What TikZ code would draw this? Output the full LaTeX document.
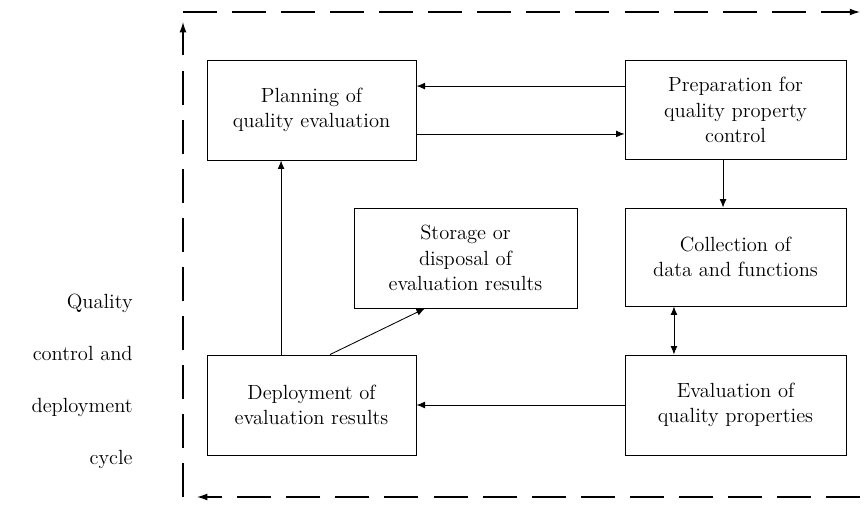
\documentclass[tikz,border=0pt]{standalone}
\usetikzlibrary{arrows.meta}
\begin{document}
\begin{tikzpicture}[x=0.585pt,y=-0.585pt,
  box/.style={draw,line width=0.5pt,inner sep=0pt,align=center,
    font=\fontsize{12}{15}\selectfont},
  tip/.style={},
  arr/.style={line width=0.5pt,-{Latex[length=5pt,width=4pt]}},
  darr/.style={line width=0.5pt,{Latex[length=5pt,width=4pt]}-{Latex[length=5pt,width=4pt]}},
  loop/.style={line width=0.7pt,dash pattern=on 19.9pt off 8.8pt,-{Latex[length=6pt,width=4pt]}},
  lbl/.style={align=right,inner sep=0pt,font=\fontsize{12}{30.4}\selectfont}]
\useasboundingbox (0,0) rectangle (868,507);

\node[box,minimum width=122.3pt,minimum height=58.5pt] (plan) at (311.5,110) {Planning of\\quality evaluation};
\node[box,minimum width=129.3pt,minimum height=58.2pt] (prep) at (735.5,110) {Preparation for\\quality property\\control};
\node[box,minimum width=129.3pt,minimum height=57.3pt] (coll) at (735.5,257) {Collection of\\data and functions};
\node[box,minimum width=130.5pt,minimum height=58.5pt] (stor) at (465.5,258) {Storage or\\disposal of\\evaluation results};
\node[box,minimum width=122.3pt,minimum height=58.5pt] (dep) at (311.5,405) {Deployment of\\evaluation results};
\node[box,minimum width=129.3pt,minimum height=58.5pt] (eval) at (735.5,405) {Evaluation of\\quality properties};

\node[lbl,anchor=east] (cyc) at (133,381) {Quality\\control and\\deployment\\cycle};

\draw[arr] ([yshift=14pt]prep.west) -- ([yshift=14pt]plan.east);
\draw[arr] ([yshift=-14pt]plan.east) -- ([yshift=-14pt]prep.west);
\draw[arr] ([xshift=-7.3pt]prep.south) -- ([xshift=-7.3pt]prep.south |- coll.north);
\draw[darr] ([xshift=-36pt]coll.south) -- ([xshift=-36pt]coll.south |- eval.north);
\draw[arr] (eval.west) -- (dep.east);
\draw[arr] ([xshift=-17.8pt]dep.north) -- ([xshift=-17.8pt]dep.north |- plan.south);
\draw[arr] ([xshift=10.8pt]dep.north) -- ([xshift=-23.7pt]stor.south);

\coordinate (tl) at (183,12);
\coordinate (tr) at (860,12);
\coordinate (bl) at (183,497);
\coordinate (br) at (860,497);
\coordinate (bla) at (197,497);
\coordinate (tla) at (183,22);
\draw[loop] (tl) -- (tr);
\draw[loop] (bl) -- (tla);
\draw[loop] (br) -- (bla);
\end{tikzpicture}
\end{document}
